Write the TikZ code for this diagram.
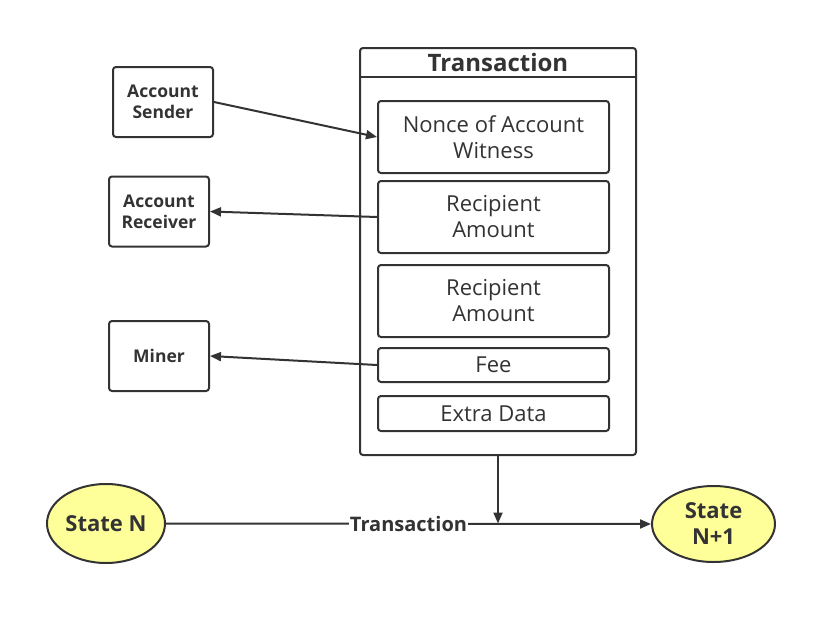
\documentclass[tikz,border=0pt]{standalone}
\usepackage{fontspec}
\setmainfont{Open Sans}
\usetikzlibrary{arrows.meta,positioning,calc,shapes.geometric}
\definecolor{inkgray}{RGB}{51,51,51}
\definecolor{stateyellow}{RGB}{255,255,153}

\begin{document}
\begin{tikzpicture}[
    x=1pt, y=-1pt,
    every node/.style={text=inkgray},
    box/.style={rectangle, draw=inkgray, line width=2pt, rounded corners=3pt,
                inner sep=0pt, align=center},
    actor/.style={box, minimum width=100pt, minimum height=70pt,
                  font=\bfseries\fontsize{17.5}{21}\selectfont},
    field/.style={box, minimum width=231pt,
                  font=\fontsize{22}{26}\selectfont},
    state/.style={ellipse, draw=inkgray, line width=2pt, fill=stateyellow,
                  inner sep=0pt, align=center,
                  font=\bfseries\fontsize{22}{26}\selectfont},
    arr/.style={-{Triangle[length=11pt,width=9pt]}, line width=2pt, draw=inkgray}
  ]
  \useasboundingbox (0,0) rectangle (836,627);

  %% Transaction container
  \node[box, minimum width=276pt, minimum height=407pt] (txn) at (498,251.5) {};
  \node[minimum width=276pt, minimum height=29pt, inner sep=0pt,
        font=\bfseries\fontsize{24}{26}\selectfont] (txtitle) at (498,62.5) {Transaction};
  \draw[line width=2pt, inkgray] (txtitle.south west) -- (txtitle.south east);

  %% Fields
  \node[field, minimum height=72pt] (nonce) at (493.5,137)   {Nonce of Account\\Witness};
  \node[field, minimum height=72pt] (recA)  at (493.5,217)   {Recipient\\Amount};
  \node[field, minimum height=72pt] (recB)  at (493.5,301)   {Recipient\\Amount};
  \node[field, minimum height=34pt] (fee)   at (493.5,365)   {Fee};
  \node[field, minimum height=35pt] (extra) at (493.5,413.5) {Extra Data};

  %% Accounts and miner
  \node[actor] (sender)   at (163,102) {Account\\Sender};
  \node[actor] (receiver) at (159,211.5) {Account\\Receiver};
  \node[actor] (miner)    at (159,356) {Miner};

  %% States
  \node[state, minimum width=118pt, minimum height=79pt] (stN)  at (106,523.5) {State N};
  \node[state, minimum width=123pt, minimum height=76pt] (stN1) at (713.5,524) {State\\N+1};

  %% Connections
  \draw[arr] (sender.east) -- (nonce.west);
  \draw[arr] (recA.west) -- (receiver.east);
  \draw[arr] (fee.west) -- (miner.east);
  \coordinate (drop) at (txn.south |- stN.east);
  \draw[arr] (txn.south) -- (drop);
  \draw[arr] (stN.east) -- node[fill=white, inner sep=1pt,
        font=\bfseries\fontsize{20}{22}\selectfont] {Transaction} (stN1.west);

\end{tikzpicture}
\end{document}
